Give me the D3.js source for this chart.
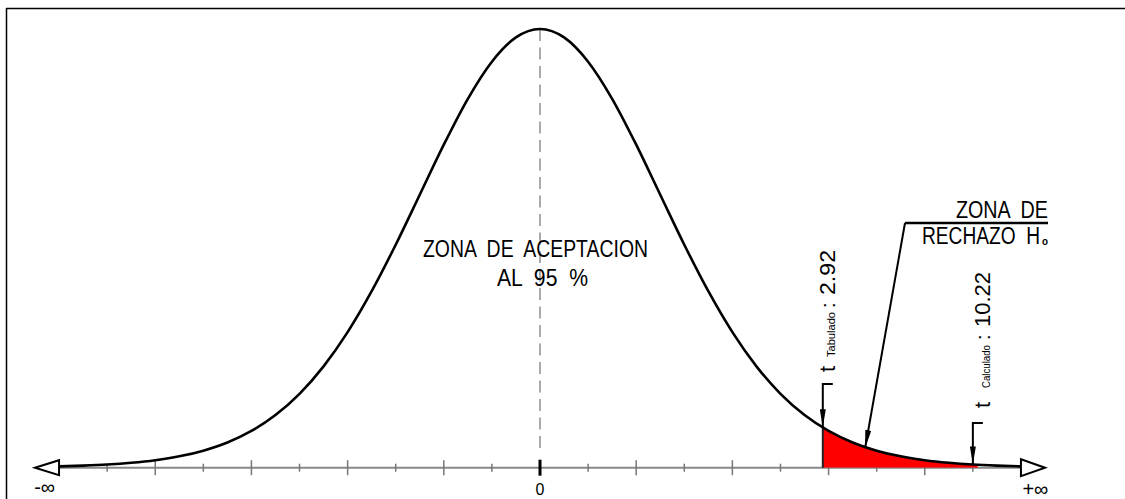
<!DOCTYPE html>
<html><head><meta charset="utf-8">
<script src="https://cdn.jsdelivr.net/npm/d3@7"></script>
<style>body{margin:0;background:#fff}svg{display:block}text{white-space:pre}</style></head>
<body><svg id="c" width="1125" height="499"></svg>
<script>
// Curve: x in tick units (0 = centre), y = height relative to peak
const curveX = [-10,-9.5,-9,-8.5,-8,-7.5,-7,-6.5,-6,-5.5,-5,-4.5,-4,-3.5,-3,-2.5,-2,-1.5,-1,-0.5,0,
                0.5,1,1.5,2,2.5,3,3.5,4,4.5,5,5.5,6,6.5,7,7.5,8,8.5,9,9.5,10];
const curveY = [0.003,0.0047,0.0072,0.0112,0.0171,0.0259,0.0389,0.0575,0.0838,0.12,0.1684,0.231,0.309,0.4023,0.5083,0.6222,0.7363,0.8409,0.9255,0.9808,1,
                0.9808,0.9255,0.8409,0.7363,0.6222,0.5083,0.4023,0.309,0.231,0.1684,0.12,0.0838,0.0575,0.0389,0.0259,0.0171,0.0112,0.0072,0.0047,0.003];
const tickValues = [-9,-8,-7,-6,-5,-4,-3,-2,-1,1,2,3,4,5,6,7,8,9];
const endLabels = ["-∞","0","+∞"];
const tTabPos = 5.88, tTabY = 0.092;   // "t Tabulado: 2.92"
const tCalPos = 9.0,  tCalY = 0.0075;  // "t Calculado: 10.22"
const rejectEnd = 9.1;
const leaderPos = 6.76, leaderY = 0.045;

const svg = d3.select("#c");
const x = d3.scaleLinear().domain([-10.5,10.5]).range([35,1045]);
const y = d3.scaleLinear().domain([0,1]).range([467.7,29]);
const pts = curveX.map((v,i)=>[v,curveY[i]]);
const FONT = "'Liberation Sans', Arial, sans-serif";

// frame
svg.append("line").attr("x1",6).attr("x2",1125).attr("y1",8.5).attr("y2",8.5).attr("stroke","#000").attr("stroke-width",1.5);
svg.append("line").attr("x1",6.5).attr("x2",6.5).attr("y1",8).attr("y2",499).attr("stroke","#000").attr("stroke-width",1.5);

// arrow marker
const defs = svg.append("defs");
defs.append("marker").attr("id","ah").attr("markerUnits","userSpaceOnUse")
  .attr("markerWidth",18).attr("markerHeight",6).attr("refX",18).attr("refY",3).attr("orient","auto")
  .append("path").attr("d","M0,0L18,3L0,6Z").attr("fill","#000");
defs.append("clipPath").attr("id","rej").append("rect")
  .attr("x",x(tTabPos)).attr("y",0).attr("width",x(rejectEnd)-x(tTabPos)).attr("height",y(0));

// axis
const ax = svg.append("g");
ax.append("line").attr("x1",x(-10)).attr("x2",x(10)).attr("y1",y(0)).attr("y2",y(0)).attr("stroke","#888").attr("stroke-width",2);
ax.selectAll("line.t").data(tickValues).join("line").attr("class","t")
  .attr("x1",d=>x(d)).attr("x2",d=>x(d))
  .attr("y1",d=>d%2===0? y(0)-7.5 : y(0)-4)
  .attr("y2",d=>d%2===0? y(0)+7.5 : y(0)+4)
  .attr("stroke","#777").attr("stroke-width",1.5);
// centre dashed line
svg.append("line").attr("x1",x(0)).attr("x2",x(0)).attr("y1",y(1)).attr("y2",y(0)-16)
  .attr("stroke","#aaa").attr("stroke-width",2).attr("stroke-dasharray","12,6.5");
svg.append("line").attr("x1",x(0)).attr("x2",x(0)).attr("y1",y(0)-8).attr("y2",y(0)+8).attr("stroke","#000").attr("stroke-width",3);

// rejection area
const area = d3.area().x(d=>x(d[0])).y0(y(0)).y1(d=>y(d[1])).curve(d3.curveMonotoneX);
svg.append("path").attr("d",area(pts)).attr("fill","#ff0000").attr("clip-path","url(#rej)");
svg.append("line").attr("x1",x(tTabPos)).attr("x2",x(tTabPos)).attr("y1",y(0)).attr("y2",y(tTabY))
  .attr("stroke","#222").attr("stroke-width",2);

// curve
const line = d3.line().x(d=>x(d[0])).y(d=>y(d[1])).curve(d3.curveMonotoneX);
svg.append("path").attr("d",line(pts)).attr("fill","none").attr("stroke","#000").attr("stroke-width",2.6);

// end arrows
const tri = (tip, base, h) => `M${tip},${y(0)}L${base},${y(0)-h}L${base},${y(0)+h}Z`;
svg.append("path").attr("d",tri(x(-10.5),x(-10),7.5)).attr("fill","#fff").attr("stroke","#000").attr("stroke-width",2);
svg.append("path").attr("d",tri(x(10.5),x(10),8.5)).attr("fill","#fff").attr("stroke","#000").attr("stroke-width",2);

// bottom labels
svg.append("text").attr("x",x(-10.3)).attr("y",494).attr("text-anchor","middle").attr("font-family",FONT).attr("font-size",20).text(endLabels[0]);
svg.append("text").attr("x",x(0)).attr("y",495).attr("text-anchor","middle").attr("font-family",FONT).attr("font-size",16).text(endLabels[1]);
svg.append("text").attr("x",x(10.3)).attr("y",496).attr("text-anchor","middle").attr("font-family",FONT).attr("font-size",20).text(endLabels[2]);

// t markers
function marker(pos, dens, topY) {
  svg.append("path").attr("d",`M${x(pos)+10},${topY}L${x(pos)},${topY}L${x(pos)},${y(dens)}`)
    .attr("fill","none").attr("stroke","#000").attr("stroke-width",2).attr("marker-end","url(#ah)");
}
marker(tTabPos, tTabY, 384);
marker(tCalPos, tCalY, 423);

function rotLabel(bx, by, parts) {
  const g = svg.append("g").attr("transform",`translate(${bx},${by}) rotate(-90)`);
  parts.forEach(p => {
    const t = g.append("text").attr("x",p[1]).attr("y",0).attr("font-family",FONT).attr("font-size",p[2]).text(p[0]);
    if (p[3]) t.attr("textLength",p[3]).attr("lengthAdjust","spacingAndGlyphs");
  });
}
rotLabel(835, 372, [["t",0,22],["Tabulado",15,11,45],[":",64,20],["2.92",77,22,45]]);
rotLabel(990, 410, [["t",2,22],["Calculado",22,11,43],[":",70,20],["10.22",83,22,55]]);

// ZONA DE RECHAZO
const zt = (txt, xx, yy, len, anchor) => svg.append("text").attr("x",xx).attr("y",yy)
  .attr("text-anchor",anchor).attr("font-family",FONT).attr("font-size",23)
  .attr("textLength",len).attr("lengthAdjust","spacingAndGlyphs").text(txt);
zt("ZONA  DE", 956, 218, 92, "start");
zt("RECHAZO  H", 922, 244, 118, "start");
svg.append("text").attr("x",1042).attr("y",245).attr("font-family",FONT).attr("font-size",10)
  .attr("font-weight","bold").attr("textLength",6).attr("lengthAdjust","spacingAndGlyphs").text("o");
svg.append("line").attr("x1",905).attr("x2",1048).attr("y1",223).attr("y2",223).attr("stroke","#000").attr("stroke-width",2.5);
svg.append("path").attr("d",`M${905},223L${x(leaderPos)},${y(leaderY)}`).attr("fill","none")
  .attr("stroke","#000").attr("stroke-width",2).attr("marker-end","url(#ah)");

// ZONA DE ACEPTACION
zt("ZONA  DE  ACEPTACION", 423, 257, 225, "start");
zt("AL  95  %", 497, 286, 91, "start");
</script></body></html>
